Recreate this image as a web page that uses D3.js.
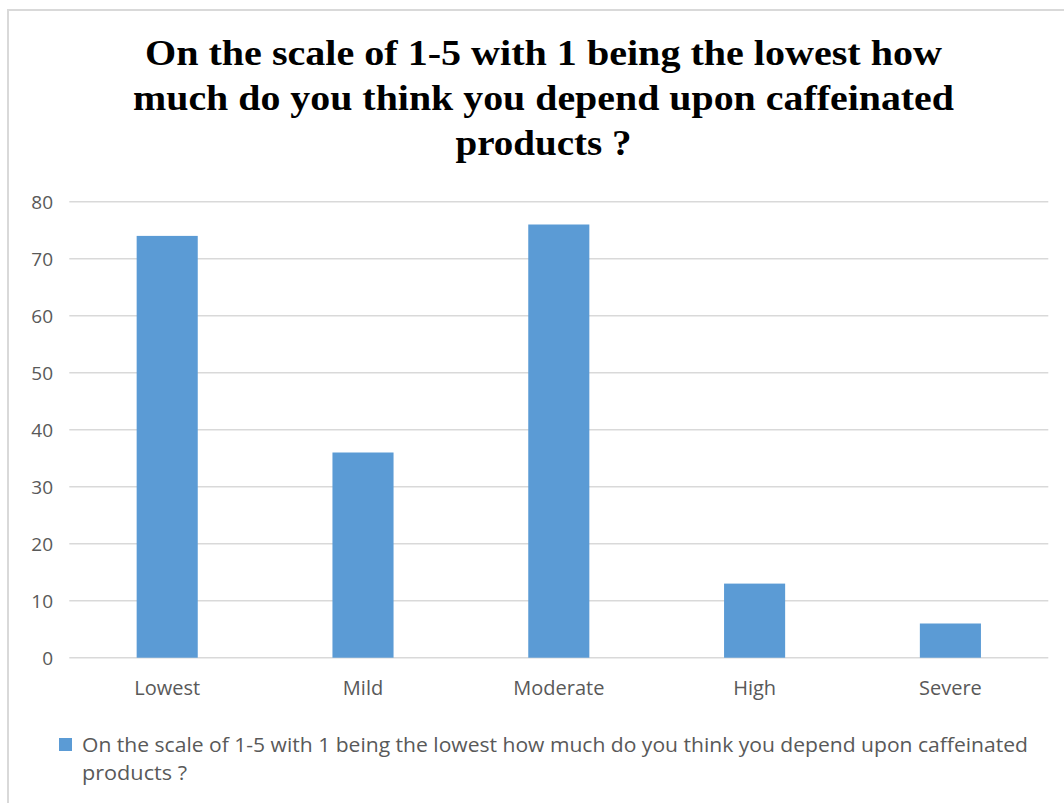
<!DOCTYPE html>
<html>
<head>
<meta charset="utf-8">
<script src="https://cdn.jsdelivr.net/npm/d3@7/dist/d3.min.js"></script>
<style>
  html, body { margin: 0; padding: 0; background: #ffffff; }
  svg { display: block; }
</style>
</head>
<body>
<svg id="chart" width="1064" height="803"></svg>
<script>
// Survey responses: self-rated dependence on caffeinated products
const categories = ["Lowest", "Mild", "Moderate", "High", "Severe"];
const values = [74, 36, 76, 13, 6];
const yTicks = [0, 10, 20, 30, 40, 50, 60, 70, 80];
const titleLines = [
  "On the scale of 1-5 with 1 being the lowest how",
  "much do you think you depend upon caffeinated",
  "products ?"
];
const seriesName = "On the scale of 1-5 with 1 being the lowest how much do you think you depend upon caffeinated products ?";
const legendLines = [
  "On the scale of 1-5 with 1 being the lowest how much do you think you depend upon caffeinated",
  "products ?"
];

const W = 1064, H = 803;
const svg = d3.select("#chart");
const barColor = "#5b9bd5";
const textColor = "#595959";
const gridColor = "#d9d9d9";
const uiFont = "'Open Sans', Lato, sans-serif";

// chart frame (top and left edges)
svg.append("path")
  .attr("d", `M8,${H} L8,10 L${W},10`)
  .attr("fill", "none")
  .attr("stroke", gridColor)
  .attr("stroke-width", 2);

// title
const titleWidths = [797, 821, 176];
const title = svg.append("g");
titleLines.forEach((t, i) => {
  title.append("text")
    .attr("x", 543.5)
    .attr("y", 65 + i * 45)
    .attr("text-anchor", "middle")
    .attr("font-family", "'Liberation Serif', 'DejaVu Serif', serif")
    .attr("font-weight", "bold")
    .attr("font-size", 36)
    .attr("fill", "#000000")
    .attr("textLength", titleWidths[i])
    .attr("lengthAdjust", "spacingAndGlyphs")
    .text(t);
});

// plot area
const plot = { left: 69.3, right: 1048.3, top: 201.7, bottom: 657.7 };

const x = d3.scaleBand()
  .domain(categories)
  .range([plot.left, plot.right])
  .paddingInner(0.688)
  .paddingOuter(0.344);

const y = d3.scaleLinear()
  .domain([0, 80])
  .range([plot.bottom, plot.top]);

// horizontal gridlines
svg.append("g")
  .selectAll("line")
  .data(yTicks)
  .join("line")
  .attr("x1", plot.left)
  .attr("x2", plot.right)
  .attr("y1", d => y(d))
  .attr("y2", d => y(d))
  .attr("stroke", gridColor)
  .attr("stroke-width", 1.5);

// y-axis labels
const yAxis = d3.axisLeft(y).tickValues(yTicks).tickSize(0).tickPadding(0);
const yg = svg.append("g")
  .attr("transform", `translate(${53},0)`)
  .call(yAxis);
yg.select(".domain").remove();
yg.selectAll("text")
  .attr("font-family", uiFont)
  .attr("font-size", 19)
  .attr("fill", textColor)
  .attr("text-anchor", "end")
  .attr("dy", "0.36em");

// bars
svg.append("g")
  .selectAll("rect")
  .data(categories.map((c, i) => ({ c, v: values[i] })))
  .join("rect")
  .attr("x", d => x(d.c))
  .attr("width", x.bandwidth())
  .attr("y", d => y(d.v))
  .attr("height", d => y(0) - y(d.v))
  .attr("fill", barColor);

// category labels
const xAxis = d3.axisBottom(x).tickSize(0).tickPadding(0);
const xg = svg.append("g")
  .attr("transform", `translate(0,${plot.bottom})`)
  .call(xAxis);
xg.select(".domain").remove();
xg.selectAll("text")
  .attr("font-family", uiFont)
  .attr("font-size", 20)
  .attr("fill", textColor)
  .attr("dy", 0)
  .attr("y", 37);

// legend
const legend = svg.append("g").attr("aria-label", seriesName);
legend.append("rect")
  .attr("x", 59)
  .attr("y", 738)
  .attr("width", 13)
  .attr("height", 13)
  .attr("fill", barColor);
const legendWidths = [946, 105];
legendLines.forEach((t, i) => {
  legend.append("text")
    .attr("x", 82)
    .attr("y", 752 + i * 28)
    .attr("font-family", uiFont)
    .attr("font-size", 20)
    .attr("fill", textColor)
    .attr("textLength", legendWidths[i])
    .attr("lengthAdjust", "spacingAndGlyphs")
    .text(t);
});
</script>
</body>
</html>
